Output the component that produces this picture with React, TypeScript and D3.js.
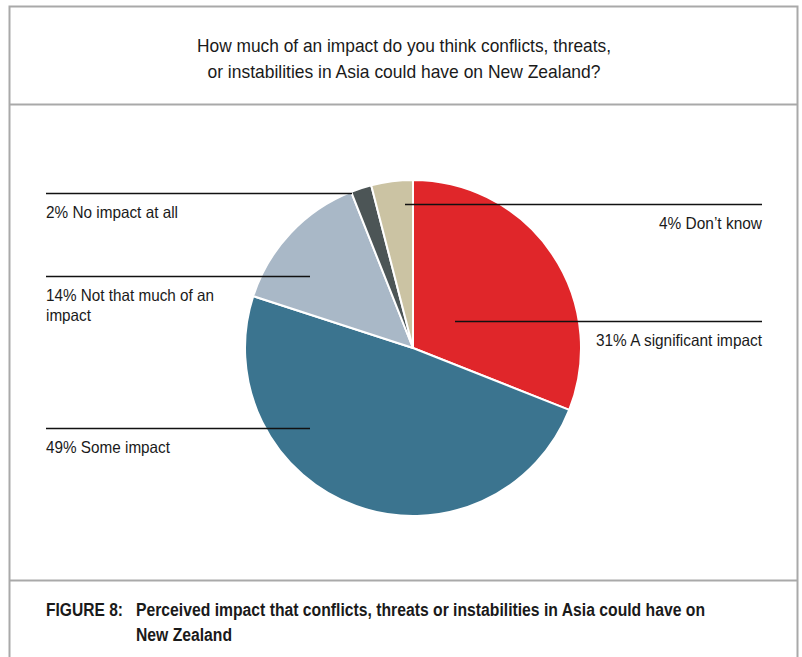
import React from "react";
import * as d3 from "d3";

// Survey answers, clockwise from 12 o'clock
const categories = [
  "A significant impact",
  "Some impact",
  "Not that much of an impact",
  "No impact at all",
  "Don\u2019t know",
];
const shares = [31, 49, 14, 2, 4];
const sliceColors = ["#e0262a", "#3b748f", "#a9b8c7", "#4c5556", "#cbc3a3"];

const titleLines = [
  "How much of an impact do you think conflicts, threats,",
  "or instabilities in Asia could have on New Zealand?",
];
const captionLabel = "FIGURE 8:";
const captionLines = [
  "Perceived impact that conflicts, threats or instabilities in Asia could have on",
  "New Zealand",
];

const W = 802;
const H = 657;
const FONT = "'Liberation Sans', Arial, sans-serif";

// Leader line placement per slice: line y, inner end x, side, text widths
const labelLayout = [
  { lineY: 321, innerX: 455, side: "right", widths: [166] },
  { lineY: 428, innerX: 310, side: "left", widths: [124] },
  { lineY: 276, innerX: 310, side: "left", widths: [168, 45] },
  { lineY: 193, innerX: 352, side: "left", widths: [132] },
  { lineY: 204, innerX: 405, side: "right", widths: [103] },
];

function labelLines(i: number): string[] {
  const text = `${shares[i]}% ${categories[i]}`;
  if (i === 2) return [`${shares[i]}% Not that much of an`, "impact"];
  return [text];
}

export default function App() {
  const cx = 413;
  const cy = 348;
  const r = 168;

  const pie = d3
    .pie<number>()
    .sort(null)
    .startAngle(0)
    .endAngle(2 * Math.PI)
    .value((d) => d);
  const arcs = pie(shares);
  const arc = d3.arc<d3.PieArcDatum<number>>().innerRadius(0).outerRadius(r);

  const leftX = 46;
  const rightX = 762;

  return (
    <svg
      width={W}
      height={H}
      style={{ position: "absolute", left: 0, top: 0, background: "#fff" }}
    >
      {/* frame and dividers */}
      <rect x={9.5} y={6.5} width={788} height={660} fill="none" stroke="#a9a9a9" strokeWidth={2} />
      <line x1={9} x2={798} y1={104.5} y2={104.5} stroke="#a9a9a9" strokeWidth={2} />
      <line x1={9} x2={798} y1={580.5} y2={580.5} stroke="#a9a9a9" strokeWidth={2} />

      {/* question */}
      <g fontFamily={FONT} fontSize={19} fill="#1a1a1a" textAnchor="middle">
        <text x={404} y={52} textLength={414} lengthAdjust="spacingAndGlyphs">
          {titleLines[0]}
        </text>
        <text x={404} y={78} textLength={393} lengthAdjust="spacingAndGlyphs">
          {titleLines[1]}
        </text>
      </g>

      {/* slices */}
      <g transform={`translate(${cx},${cy})`}>
        {arcs.map((a, i) => (
          <path
            key={categories[i]}
            d={arc(a) || ""}
            fill={sliceColors[i]}
            stroke="#fff"
            strokeWidth={2}
            strokeLinejoin="round"
          />
        ))}
      </g>

      {/* leader lines and labels */}
      <g fontFamily={FONT} fontSize={16.5} fill="#1a1a1a">
        {labelLayout.map((l, i) => {
          const lines = labelLines(i);
          const isRight = l.side === "right";
          const x1 = isRight ? l.innerX : leftX;
          const x2 = isRight ? rightX : l.innerX;
          return (
            <g key={categories[i]}>
              <line x1={x1} x2={x2} y1={l.lineY + 0.5} y2={l.lineY + 0.5} stroke="#111" strokeWidth={1.3} />
              {lines.map((t, j) => (
                <text
                  key={j}
                  x={isRight ? rightX : leftX}
                  y={l.lineY + 25 + j * 20}
                  textAnchor={isRight ? "end" : "start"}
                  textLength={l.widths[j]}
                  lengthAdjust="spacingAndGlyphs"
                >
                  {t}
                </text>
              ))}
            </g>
          );
        })}
      </g>

      {/* figure caption */}
      <g fontFamily={FONT} fontSize={17.5} fontWeight="bold" fill="#1a1a1a">
        <text x={46} y={616} textLength={77} lengthAdjust="spacingAndGlyphs">
          {captionLabel}
        </text>
        <text x={136} y={616} textLength={569} lengthAdjust="spacingAndGlyphs">
          {captionLines[0]}
        </text>
        <text x={136} y={641} textLength={96} lengthAdjust="spacingAndGlyphs">
          {captionLines[1]}
        </text>
      </g>
    </svg>
  );
}
